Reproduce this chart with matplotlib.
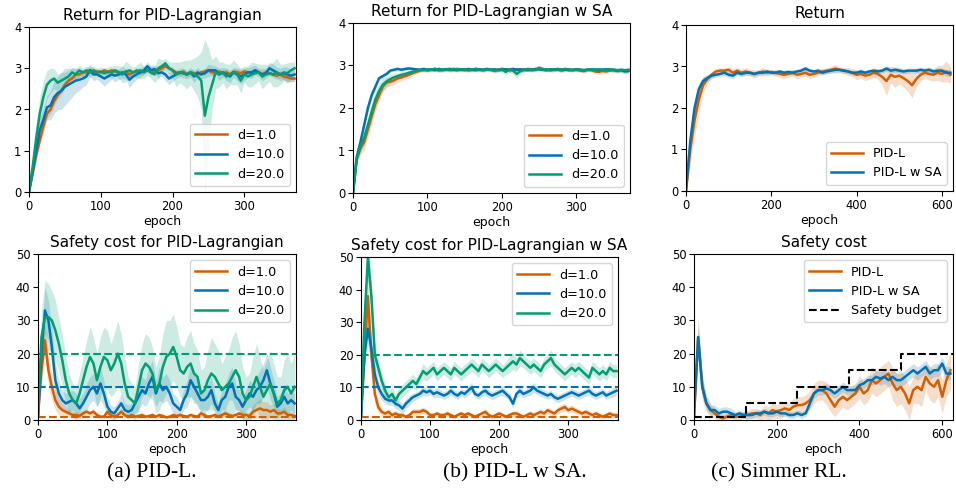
import numpy as np
import matplotlib
matplotlib.use("Agg")
import matplotlib.pyplot as plt

# %% Data
epochs_ab = np.arange(0, 375, 5)    # PID-L / PID-L w SA runs, logged every 5 epochs
epochs_c = np.arange(0, 630, 10)    # Simmer RL run, logged every 10 epochs

# (a) PID-L  -- return
ret_a_d1 = [0.00, 0.45, 0.90, 1.25, 1.60, 1.90, 2.00, 2.20, 2.35, 2.45, 2.60, 2.70, 2.75, 2.85, 2.85,
            2.90, 2.90, 2.95, 2.90, 2.92, 2.90, 2.95, 2.90, 2.95, 2.92, 2.90, 2.88, 2.92, 2.85, 2.90,
            2.95, 2.90, 2.92, 2.95, 2.90, 2.92, 2.95, 3.00, 3.05, 3.00, 2.95, 2.90, 2.88, 2.92, 2.85,
            2.90, 2.88, 2.85, 2.90, 2.92, 2.95, 2.90, 2.90, 2.92, 2.88, 2.90, 2.85, 2.92, 2.90, 2.88,
            2.92, 2.90, 2.88, 2.95, 2.90, 2.85, 2.90, 2.88, 2.85, 2.82, 2.85, 2.80, 2.78, 2.75, 2.75]
ret_a_d1_sd = [0.00, 0.10, 0.15, 0.15, 0.15, 0.12, 0.12, 0.10, 0.10, 0.10, 0.08, 0.08, 0.08, 0.08, 0.07,
               0.07, 0.06, 0.08, 0.06, 0.07, 0.06, 0.08, 0.07, 0.06, 0.07, 0.08, 0.06, 0.07, 0.08, 0.06,
               0.07, 0.06, 0.08, 0.06, 0.07, 0.06, 0.08, 0.07, 0.06, 0.07, 0.08, 0.06, 0.07, 0.08, 0.06,
               0.07, 0.06, 0.08, 0.06, 0.07, 0.06, 0.08, 0.07, 0.06, 0.07, 0.08, 0.06, 0.07, 0.08, 0.06,
               0.07, 0.06, 0.08, 0.06, 0.07, 0.08, 0.08, 0.07, 0.08, 0.09, 0.08, 0.08, 0.09, 0.08, 0.08]
ret_a_d10 = [0.00, 0.50, 1.00, 1.50, 1.75, 2.05, 2.10, 2.30, 2.40, 2.45, 2.55, 2.60, 2.65, 2.70, 2.72,
             2.75, 2.80, 2.95, 2.85, 2.85, 2.80, 2.75, 2.80, 2.85, 2.82, 2.85, 2.90, 2.85, 2.72, 2.80,
             2.85, 2.90, 2.95, 3.05, 2.95, 2.98, 2.88, 2.90, 2.85, 2.75, 2.80, 2.85, 2.90, 2.88, 2.85,
             2.90, 2.80, 2.90, 2.85, 2.88, 2.95, 2.95, 2.95, 2.85, 2.90, 2.85, 2.80, 2.90, 2.85, 2.80,
             2.85, 2.90, 2.90, 2.95, 2.90, 2.85, 2.88, 3.00, 2.95, 2.90, 2.85, 2.88, 2.85, 2.82, 2.85]
ret_a_d10_sd = [0.00, 0.15, 0.25, 0.30, 0.30, 0.30, 0.35, 0.40, 0.40, 0.45, 0.45, 0.40, 0.35, 0.30, 0.25,
                0.20, 0.20, 0.15, 0.15, 0.12, 0.15, 0.18, 0.15, 0.12, 0.15, 0.12, 0.15, 0.12, 0.18, 0.15,
                0.12, 0.12, 0.10, 0.10, 0.12, 0.10, 0.12, 0.10, 0.15, 0.15, 0.12, 0.10, 0.10, 0.12, 0.10,
                0.12, 0.15, 0.12, 0.10, 0.12, 0.15, 0.12, 0.10, 0.15, 0.12, 0.15, 0.15, 0.12, 0.15, 0.18,
                0.15, 0.12, 0.15, 0.12, 0.10, 0.15, 0.12, 0.15, 0.15, 0.12, 0.15, 0.15, 0.18, 0.15, 0.15]
ret_a_d20 = [0.00, 0.60, 1.30, 1.90, 2.30, 2.60, 2.70, 2.75, 2.65, 2.70, 2.75, 2.80, 2.90, 2.85, 2.95,
             2.90, 2.95, 2.90, 2.95, 2.90, 2.92, 2.88, 2.92, 2.90, 2.95, 2.90, 2.85, 2.92, 2.95, 2.90,
             2.92, 2.95, 2.90, 2.95, 2.90, 2.85, 3.00, 3.05, 3.12, 3.00, 2.95, 2.85, 2.90, 2.88, 2.85,
             2.90, 2.85, 2.80, 2.70, 1.85, 2.30, 2.60, 2.90, 2.85, 2.90, 2.80, 2.85, 2.90, 2.85, 2.70,
             2.85, 2.80, 2.85, 2.88, 2.90, 2.80, 2.85, 2.88, 2.85, 2.90, 2.85, 2.90, 2.88, 2.95, 3.00]
ret_a_d20_sd = [0.00, 0.25, 0.35, 0.40, 0.40, 0.35, 0.30, 0.25, 0.20, 0.20, 0.15, 0.15, 0.12, 0.15, 0.12,
                0.12, 0.10, 0.12, 0.10, 0.10, 0.12, 0.10, 0.12, 0.15, 0.12, 0.15, 0.20, 0.25, 0.15, 0.12,
                0.15, 0.20, 0.15, 0.12, 0.15, 0.20, 0.25, 0.15, 0.12, 0.15, 0.20, 0.30, 0.25, 0.30, 0.35,
                0.30, 0.40, 0.50, 0.70, 1.85, 1.20, 0.60, 0.40, 0.30, 0.25, 0.30, 0.25, 0.30, 0.25, 0.30,
                0.20, 0.25, 0.30, 0.25, 0.20, 0.30, 0.25, 0.20, 0.30, 0.35, 0.25, 0.20, 0.25, 0.20, 0.15]

# (a) PID-L  -- safety cost
cost_a_d1 = [1.0, 15.0, 24.0, 15.0, 10.0, 6.0, 4.0, 3.0, 2.5, 2.0, 1.5, 1.5, 1.2, 2.0, 2.5,
             2.0, 2.5, 1.5, 1.0, 1.0, 2.5, 1.5, 1.0, 1.5, 2.5, 1.5, 1.0, 1.5, 1.0, 1.2,
             1.5, 1.0, 1.2, 1.5, 1.0, 1.5, 1.2, 0.8, 1.0, 1.5, 1.2, 1.5, 1.2, 1.0, 1.5,
             1.2, 1.0, 2.0, 1.5, 1.0, 1.2, 1.5, 1.0, 1.5, 2.0, 1.5, 1.2, 1.5, 2.0, 1.5,
             1.5, 1.2, 2.5, 3.0, 3.5, 3.0, 3.0, 2.5, 3.0, 2.0, 2.0, 2.5, 1.5, 1.5, 1.2]
cost_a_d1_sd = [0.0, 4.0, 5.0, 5.0, 4.0, 3.0, 2.5, 2.0, 1.5, 1.2, 1.0, 1.0, 0.8, 1.0, 1.0,
                0.8, 1.0, 0.8, 0.6, 0.6, 1.0, 0.8, 0.6, 0.8, 1.0, 0.8, 0.6, 0.8, 0.6, 0.6,
                0.8, 0.6, 0.6, 0.8, 0.6, 0.8, 0.6, 0.5, 0.6, 0.8, 0.6, 0.8, 0.6, 0.6, 0.8,
                0.6, 0.6, 1.0, 0.8, 0.6, 0.6, 0.8, 0.6, 0.8, 1.0, 0.8, 0.6, 0.8, 1.2, 1.0,
                1.0, 1.0, 2.0, 2.5, 3.0, 2.5, 2.5, 2.0, 2.0, 1.5, 1.2, 1.5, 1.0, 1.0, 0.8]
cost_a_d10 = [1.0, 20.0, 33.0, 30.0, 22.0, 12.0, 8.0, 6.0, 5.0, 5.5, 6.0, 5.0, 3.5, 5.0, 7.0,
              9.0, 10.0, 8.0, 11.0, 8.0, 4.0, 2.5, 2.0, 3.5, 5.0, 3.0, 2.5, 3.0, 5.0, 7.0,
              9.0, 8.0, 11.0, 13.0, 8.0, 11.0, 9.0, 10.0, 8.0, 5.0, 4.0, 3.0, 6.0, 8.0, 12.0,
              10.0, 8.0, 6.0, 6.0, 7.0, 9.0, 5.0, 3.0, 6.0, 7.0, 10.0, 11.0, 7.0, 6.0, 4.0,
              6.0, 8.0, 7.0, 9.0, 10.0, 12.0, 15.0, 11.0, 8.0, 4.0, 5.0, 7.0, 5.0, 6.0, 5.0]
cost_a_d10_sd = [0, 5, 7, 6, 6, 5, 4, 3, 3, 3, 3, 3, 3, 3, 4,
                 4, 4, 4, 5, 4, 3, 2, 2, 2, 3, 2, 2, 2, 3, 4,
                 4, 4, 5, 5, 4, 5, 4, 4, 4, 3, 3, 2, 3, 4, 5,
                 4, 4, 3, 3, 4, 4, 3, 2, 3, 4, 4, 5, 4, 3, 3,
                 3, 4, 4, 4, 5, 5, 5, 5, 4, 3, 3, 4, 3, 3, 3]
cost_a_d20 = [1.0, 25.0, 31.0, 31.0, 30.0, 27.0, 23.0, 18.0, 12.0, 8.0, 6.0, 5.0, 8.0, 12.0, 16.0,
              19.0, 17.0, 12.0, 16.0, 19.0, 18.0, 15.0, 17.0, 20.0, 17.0, 11.0, 7.0, 6.0, 5.0, 10.0,
              15.0, 17.0, 16.0, 14.0, 9.0, 11.0, 16.0, 19.0, 20.0, 22.0, 19.0, 15.0, 14.0, 16.0, 17.0,
              14.0, 13.0, 8.0, 9.0, 12.0, 14.0, 13.0, 11.0, 9.0, 10.0, 11.0, 13.0, 15.0, 13.0, 8.0,
              6.0, 7.0, 10.0, 13.0, 10.0, 7.0, 9.0, 11.0, 8.0, 5.0, 6.0, 9.0, 10.0, 8.0, 10.0]
cost_a_d20_sd = [0, 8, 11, 10, 9, 9, 8, 8, 7, 6, 5, 5, 6, 7, 8,
                 9, 8, 8, 9, 9, 9, 8, 9, 10, 9, 8, 6, 5, 5, 7,
                 8, 9, 9, 8, 7, 8, 10, 11, 10, 10, 9, 8, 8, 9, 10,
                 9, 8, 7, 7, 9, 11, 10, 10, 8, 9, 10, 12, 12, 10, 8,
                 7, 7, 9, 10, 9, 8, 9, 10, 9, 8, 7, 9, 10, 9, 10]

# (b) PID-L w SA  -- return
ret_b_d1 = [0.00, 0.80, 1.05, 1.20, 1.50, 1.80, 2.10, 2.30, 2.50, 2.60, 2.62, 2.65, 2.70, 2.72, 2.75,
            2.78, 2.82, 2.85, 2.88, 2.90, 2.88, 2.90, 2.92, 2.88, 2.90, 2.91, 2.89, 2.90, 2.92, 2.90,
            2.91, 2.88, 2.90, 2.92, 2.90, 2.89, 2.91, 2.90, 2.88, 2.90, 2.92, 2.90, 2.89, 2.90, 2.91,
            2.88, 2.90, 2.92, 2.91, 2.90, 2.95, 2.92, 2.90, 2.89, 2.91, 2.90, 2.88, 2.90, 2.91, 2.89,
            2.90, 2.88, 2.87, 2.90, 2.89, 2.86, 2.85, 2.87, 2.86, 2.88, 2.90, 2.87, 2.89, 2.88, 2.88]
ret_b_d1_sd = [0.00, 0.10, 0.15, 0.20, 0.20, 0.20, 0.18, 0.15, 0.12, 0.12, 0.10, 0.10, 0.10, 0.08, 0.08,
               0.07, 0.06, 0.05, 0.05, 0.04, 0.05, 0.04, 0.05, 0.04, 0.05, 0.04, 0.05, 0.04, 0.05, 0.04,
               0.05, 0.04, 0.05, 0.04, 0.05, 0.04, 0.05, 0.04, 0.05, 0.04, 0.05, 0.04, 0.05, 0.04, 0.05,
               0.04, 0.05, 0.04, 0.05, 0.04, 0.05, 0.04, 0.05, 0.04, 0.05, 0.04, 0.05, 0.04, 0.05, 0.04,
               0.05, 0.04, 0.05, 0.04, 0.05, 0.05, 0.06, 0.05, 0.05, 0.04, 0.05, 0.05, 0.04, 0.05, 0.05]
ret_b_d10 = [0.00, 0.85, 1.20, 1.60, 2.00, 2.30, 2.50, 2.70, 2.75, 2.80, 2.88, 2.90, 2.92, 2.90, 2.92,
             2.93, 2.92, 2.91, 2.90, 2.92, 2.90, 2.91, 2.89, 2.92, 2.90, 2.91, 2.92, 2.90, 2.89, 2.91,
             2.90, 2.92, 2.90, 2.89, 2.91, 2.90, 2.92, 2.90, 2.91, 2.89, 2.90, 2.91, 2.90, 2.92, 2.90,
             2.91, 2.90, 2.89, 2.90, 2.92, 2.91, 2.90, 2.89, 2.91, 2.90, 2.92, 2.90, 2.91, 2.89, 2.90,
             2.91, 2.90, 2.89, 2.90, 2.91, 2.90, 2.89, 2.90, 2.91, 2.90, 2.89, 2.88, 2.89, 2.86, 2.87]
ret_b_d10_sd = [0.00, 0.08, 0.10, 0.10, 0.10, 0.10, 0.08, 0.06, 0.05, 0.05, 0.04, 0.04, 0.04, 0.04, 0.04,
                0.04, 0.04, 0.04, 0.04, 0.04, 0.04, 0.04, 0.04, 0.04, 0.04, 0.04, 0.04, 0.04, 0.04, 0.04,
                0.04, 0.04, 0.04, 0.04, 0.04, 0.04, 0.04, 0.04, 0.04, 0.04, 0.04, 0.04, 0.04, 0.04, 0.04,
                0.04, 0.04, 0.04, 0.04, 0.04, 0.04, 0.04, 0.04, 0.04, 0.04, 0.04, 0.04, 0.04, 0.04, 0.04,
                0.04, 0.04, 0.04, 0.04, 0.04, 0.04, 0.04, 0.04, 0.04, 0.04, 0.05, 0.05, 0.05, 0.06, 0.05]
ret_b_d20 = [0.00, 0.80, 1.10, 1.30, 1.60, 1.90, 2.20, 2.40, 2.55, 2.62, 2.68, 2.72, 2.75, 2.78, 2.80,
             2.83, 2.85, 2.88, 2.90, 2.89, 2.91, 2.90, 2.92, 2.90, 2.89, 2.91, 2.90, 2.92, 2.90, 2.91,
             2.89, 2.91, 2.90, 2.92, 2.90, 2.89, 2.91, 2.90, 2.88, 2.90, 2.91, 2.85, 2.90, 2.88, 2.80,
             2.87, 2.90, 2.91, 2.89, 2.90, 2.92, 2.90, 2.91, 2.89, 2.90, 2.91, 2.90, 2.92, 2.90, 2.89,
             2.91, 2.90, 2.89, 2.90, 2.91, 2.90, 2.91, 2.90, 2.89, 2.91, 2.90, 2.89, 2.90, 2.89, 2.90]
ret_b_d20_sd = [0.00, 0.10, 0.15, 0.18, 0.20, 0.20, 0.20, 0.18, 0.15, 0.12, 0.10, 0.10, 0.08, 0.08, 0.06,
                0.05, 0.05, 0.05, 0.04, 0.05, 0.04, 0.05, 0.04, 0.05, 0.04, 0.05, 0.04, 0.05, 0.04, 0.05,
                0.04, 0.05, 0.04, 0.05, 0.04, 0.05, 0.04, 0.05, 0.06, 0.05, 0.06, 0.08, 0.06, 0.08, 0.10,
                0.06, 0.05, 0.04, 0.05, 0.04, 0.05, 0.04, 0.05, 0.04, 0.05, 0.04, 0.05, 0.04, 0.05, 0.04,
                0.05, 0.04, 0.05, 0.04, 0.05, 0.04, 0.05, 0.04, 0.05, 0.04, 0.05, 0.04, 0.05, 0.04, 0.05]

# (b) PID-L w SA  -- safety cost
cost_b_d1 = [1.0, 20.0, 38.0, 20.0, 8.0, 4.0, 2.5, 2.0, 2.5, 1.5, 2.0, 1.5, 1.5, 1.0, 1.5,
             2.5, 2.5, 2.5, 3.0, 2.5, 1.5, 1.5, 2.0, 1.5, 1.5, 2.0, 1.5, 1.0, 1.5, 2.0,
             1.5, 2.0, 1.5, 1.0, 1.5, 2.0, 2.5, 1.5, 1.0, 1.5, 2.0, 1.5, 1.0, 1.5, 2.0,
             2.0, 1.5, 1.0, 1.5, 2.0, 1.5, 2.0, 2.5, 2.0, 3.0, 2.5, 2.0, 3.0, 3.5, 4.0,
             3.0, 3.5, 3.0, 2.5, 2.0, 2.5, 2.0, 1.5, 2.0, 1.5, 1.0, 1.5, 2.0, 1.5, 1.5]
cost_b_d1_sd = [0.0, 5.0, 8.0, 5.0, 3.0, 2.0, 1.0, 1.0, 1.0, 0.8, 0.8, 0.8, 0.8, 0.6, 0.8,
                1.0, 1.0, 1.0, 1.0, 1.0, 0.8, 0.8, 0.8, 0.8, 0.8, 0.8, 0.8, 0.6, 0.8, 0.8,
                0.8, 0.8, 0.8, 0.6, 0.8, 0.8, 1.0, 0.8, 0.6, 0.8, 0.8, 0.8, 0.6, 0.8, 0.8,
                0.8, 0.8, 0.6, 0.8, 0.8, 0.8, 0.8, 1.0, 0.8, 1.0, 1.0, 0.8, 1.0, 1.2, 1.2,
                1.0, 1.2, 1.0, 1.0, 0.8, 1.0, 0.8, 0.8, 0.8, 0.8, 0.6, 0.8, 0.8, 0.8, 0.8]
cost_b_d10 = [1.0, 20.0, 28.0, 22.0, 14.0, 10.0, 8.0, 6.5, 6.0, 6.0, 5.0, 4.5, 3.5, 5.0, 6.0,
              7.0, 7.5, 8.0, 9.0, 8.5, 9.0, 8.0, 8.5, 8.0, 7.5, 8.0, 9.0, 8.0, 7.5, 8.5,
              8.0, 9.0, 10.0, 8.0, 7.5, 8.5, 9.0, 8.0, 7.5, 8.0, 8.5, 9.0, 8.0, 7.0, 5.0,
              8.0, 9.0, 8.0, 8.5, 9.0, 10.0, 9.0, 8.5, 8.0, 7.5, 8.0, 7.0, 6.5, 7.0, 7.5,
              8.0, 8.5, 8.0, 7.5, 8.0, 8.5, 9.0, 8.0, 7.5, 8.0, 8.5, 7.5, 8.0, 8.5, 9.0]
cost_b_d10_sd = [0.0, 4.0, 5.0, 4.0, 3.0, 2.0, 2.0, 1.5, 1.5, 1.5, 1.5, 1.5, 1.5, 1.5, 1.5,
                 1.2, 1.2, 1.2, 1.5, 1.2, 1.2, 1.2, 1.5, 1.2, 1.2, 1.2, 1.5, 1.2, 1.2, 1.2,
                 1.2, 1.5, 1.5, 1.2, 1.2, 1.2, 1.5, 1.2, 1.2, 1.2, 1.2, 1.5, 1.2, 1.2, 1.5,
                 1.2, 1.5, 1.2, 1.2, 1.5, 1.5, 1.2, 1.2, 1.2, 1.2, 1.2, 1.2, 1.2, 1.2, 1.2,
                 1.2, 1.2, 1.2, 1.2, 1.2, 1.2, 1.5, 1.2, 1.2, 1.2, 1.2, 1.2, 1.2, 1.5, 1.5]
cost_b_d20 = [1.0, 30.0, 50.0, 38.0, 20.0, 16.0, 12.0, 9.0, 7.0, 8.0, 6.0, 8.0, 9.0, 10.0, 11.0,
              12.0, 11.0, 13.0, 15.0, 14.0, 15.0, 16.0, 14.0, 15.0, 16.0, 15.0, 14.0, 16.0, 15.0, 14.0,
              15.0, 16.0, 17.0, 16.0, 15.0, 17.0, 16.0, 15.0, 16.0, 17.0, 16.0, 15.0, 16.0, 17.0, 18.0,
              17.0, 19.0, 18.0, 17.0, 16.0, 17.0, 16.0, 15.0, 17.0, 18.0, 19.0, 17.0, 16.0, 15.0, 14.0,
              15.0, 16.0, 15.0, 16.0, 15.0, 14.0, 13.0, 16.0, 15.0, 14.0, 15.0, 14.0, 16.0, 15.0, 15.0]
cost_b_d20_sd = [0.0, 5.0, 6.0, 5.0, 4.0, 3.0, 2.5, 2.0, 2.0, 2.0, 2.0, 2.0, 2.0, 2.0, 2.0,
                 2.0, 2.0, 2.0, 2.5, 2.0, 2.0, 2.0, 2.0, 2.0, 2.0, 2.0, 2.0, 2.0, 2.0, 2.0,
                 2.0, 2.0, 2.0, 2.0, 2.0, 2.0, 2.0, 2.0, 2.0, 2.0, 2.0, 2.0, 2.0, 2.5, 2.5,
                 2.0, 2.5, 2.0, 2.0, 2.0, 2.0, 2.0, 2.0, 2.0, 2.0, 2.5, 2.0, 2.0, 2.0, 2.0,
                 2.0, 2.0, 2.0, 2.0, 2.0, 2.0, 2.0, 2.0, 2.0, 2.0, 2.0, 2.0, 2.0, 2.0, 2.0]

# (c) Simmer RL  -- return
ret_c_pid = [0.00, 1.00, 1.70, 2.20, 2.55, 2.70, 2.80, 2.88, 2.90, 2.90, 2.92, 2.85, 2.90, 2.85, 2.88,
             2.85, 2.82, 2.85, 2.88, 2.85, 2.87, 2.85, 2.82, 2.80, 2.82, 2.85, 2.80, 2.82, 2.85, 2.80,
             2.82, 2.85, 2.88, 2.90, 2.92, 2.95, 2.92, 2.90, 2.88, 2.85, 2.80, 2.82, 2.78, 2.80, 2.85,
             2.82, 2.75, 2.65, 2.80, 2.75, 2.78, 2.72, 2.65, 2.55, 2.70, 2.80, 2.85, 2.82, 2.80, 2.85,
             2.82, 2.88, 2.80]
ret_c_pid_sd = [0.00, 0.35, 0.40, 0.30, 0.20, 0.10, 0.08, 0.08, 0.07, 0.07, 0.08, 0.10, 0.08, 0.08, 0.10,
                0.08, 0.10, 0.08, 0.10, 0.08, 0.07, 0.08, 0.08, 0.10, 0.08, 0.08, 0.10, 0.08, 0.08, 0.10,
                0.08, 0.07, 0.08, 0.07, 0.08, 0.10, 0.08, 0.08, 0.10, 0.10, 0.12, 0.10, 0.12, 0.10, 0.12,
                0.12, 0.20, 0.35, 0.20, 0.25, 0.20, 0.22, 0.25, 0.30, 0.20, 0.15, 0.12, 0.15, 0.15, 0.18,
                0.20, 0.25, 0.20]
ret_c_sa = [0.00, 1.20, 2.00, 2.45, 2.65, 2.72, 2.78, 2.80, 2.82, 2.85, 2.80, 2.78, 2.85, 2.82, 2.85,
            2.85, 2.82, 2.85, 2.85, 2.88, 2.85, 2.85, 2.88, 2.85, 2.87, 2.85, 2.88, 2.90, 2.95, 2.90,
            2.88, 2.90, 2.85, 2.88, 2.90, 2.92, 2.92, 2.90, 2.88, 2.85, 2.85, 2.88, 2.85, 2.88, 2.90,
            2.88, 2.90, 2.95, 2.90, 2.92, 2.90, 2.88, 2.90, 2.90, 2.90, 2.92, 2.90, 2.92, 2.88, 2.90,
            2.90, 2.85, 2.85]
ret_c_sa_sd = [0.00, 0.20, 0.20, 0.15, 0.10, 0.08, 0.07, 0.06, 0.06, 0.06, 0.07, 0.08, 0.06, 0.06, 0.06,
               0.06, 0.06, 0.06, 0.05, 0.06, 0.05, 0.06, 0.05, 0.06, 0.05, 0.06, 0.05, 0.06, 0.06, 0.06,
               0.05, 0.06, 0.05, 0.06, 0.05, 0.06, 0.05, 0.06, 0.05, 0.06, 0.06, 0.06, 0.06, 0.06, 0.06,
               0.06, 0.06, 0.07, 0.06, 0.06, 0.06, 0.06, 0.06, 0.06, 0.06, 0.07, 0.06, 0.07, 0.06, 0.07,
               0.07, 0.08, 0.08]

# (c) Simmer RL  -- safety cost
cost_c_pid = [1.0, 25.0, 10.0, 5.0, 3.0, 2.0, 1.0, 0.5, 1.0, 1.5, 1.0, 1.0, 1.5, 1.5, 2.0,
              2.0, 1.5, 2.5, 2.0, 3.0, 2.5, 3.0, 3.5, 3.0, 4.0, 4.5, 4.5, 5.0, 6.0, 8.0,
              9.0, 9.0, 8.0, 6.0, 4.0, 6.0, 7.0, 6.0, 7.0, 8.0, 10.0, 8.0, 9.0, 12.0, 11.0,
              12.0, 13.0, 14.0, 11.0, 9.0, 10.0, 8.0, 5.0, 9.0, 10.0, 9.0, 13.0, 11.0, 10.0, 12.0,
              7.0, 12.0, 15.0]
cost_c_pid_sd = [0.0, 6.0, 4.0, 2.5, 2.0, 1.5, 1.0, 1.0, 1.0, 1.0, 1.0, 1.0, 1.0, 1.5, 1.5,
                 1.5, 1.5, 2.0, 2.0, 2.5, 2.0, 2.5, 2.0, 2.0, 2.5, 2.5, 2.5, 2.5, 3.0, 3.0,
                 3.0, 3.0, 3.5, 3.5, 3.0, 3.5, 3.0, 3.0, 3.0, 3.0, 3.5, 3.5, 3.5, 4.0, 4.0,
                 4.0, 4.0, 4.0, 5.0, 5.0, 5.0, 5.0, 5.0, 4.0, 5.0, 5.0, 4.0, 5.0, 5.0, 5.0,
                 5.0, 5.0, 6.0]
cost_c_sa = [1.0, 25.0, 10.0, 5.0, 3.0, 3.0, 2.0, 2.5, 2.5, 2.0, 1.5, 2.0, 1.5, 1.5, 1.5,
             2.0, 2.0, 2.5, 2.0, 2.0, 2.5, 2.0, 2.0, 1.5, 1.5, 2.0, 1.5, 2.0, 5.0, 8.0,
             9.0, 9.0, 9.5, 9.0, 8.0, 9.0, 10.0, 9.0, 9.0, 9.0, 10.5, 11.0, 12.0, 12.0, 13.0,
             12.5, 13.0, 12.0, 13.0, 12.0, 12.0, 13.0, 14.0, 15.0, 14.0, 15.0, 16.0, 14.0, 15.0, 15.0,
             17.0, 14.0, 14.0]
cost_c_sa_sd = [0.0, 4.0, 3.0, 2.0, 1.5, 1.5, 1.5, 1.5, 1.5, 1.5, 1.0, 1.0, 1.0, 1.0, 1.0,
                1.0, 1.0, 1.0, 1.0, 1.0, 1.0, 1.0, 1.0, 1.0, 1.0, 1.0, 1.0, 1.0, 1.5, 1.5,
                1.5, 1.5, 1.5, 1.5, 1.5, 1.5, 1.5, 1.5, 1.5, 1.5, 1.5, 1.5, 1.5, 1.5, 2.0,
                2.0, 2.0, 2.0, 2.0, 2.0, 2.0, 2.0, 2.0, 2.0, 2.0, 2.0, 2.0, 2.0, 2.0, 2.0,
                2.0, 2.0, 2.0]

budget_epochs = [0, 125, 250, 375, 500, 625]
budget_levels = [1, 5, 10, 15, 20, 20]
thresholds = [1.0, 10.0, 20.0]

d_labels = ["d=1.0", "d=10.0", "d=20.0"]
c_labels = ["PID-L", "PID-L w SA"]
captions = ["(a) PID-L.", "(b) PID-L w SA.", "(c) Simmer RL."]

# %% Style
ORANGE, BLUE, GREEN = "#D55E00", "#0173B2", "#029E73"
COLS = [ORANGE, BLUE, GREEN]
TICK_FS, TITLE_FS, LEG_FS, LAB_FS = 8.3, 11, 9.2, 9

W, H = 956, 498
fig = plt.figure(figsize=(W / 100, H / 100), dpi=100)


def add_ax(x0, y0, x1, y1):
    # pixel box (top-left origin) -> figure fraction
    return fig.add_axes([x0 / W, 1 - y1 / H, (x1 - x0) / W, (y1 - y0) / H])


def band(ax, x, m, sd, col, label):
    m = np.asarray(m, float)
    sd = np.asarray(sd, float)
    ax.fill_between(x, m - sd, m + sd, color=col, alpha=0.2, lw=0)
    ax.plot(x, m, color=col, lw=1.8, label=label)


def finish(ax, title, xmax, xticks, ymax, yticks, legend_loc):
    ax.set_xlim(0, xmax)
    ax.set_ylim(0, ymax)
    ax.set_xticks(xticks)
    ax.set_yticks(yticks)
    ax.set_title(title, fontsize=TITLE_FS, pad=5)
    ax.set_xlabel("epoch", fontsize=LAB_FS, labelpad=2)
    ax.tick_params(labelsize=TICK_FS, length=3.5, pad=2)
    ax.legend(loc=legend_loc, fontsize=LEG_FS, handlelength=2.5)


ret_ab = [
    ([ret_a_d1, ret_a_d10, ret_a_d20], [ret_a_d1_sd, ret_a_d10_sd, ret_a_d20_sd]),
    ([ret_b_d1, ret_b_d10, ret_b_d20], [ret_b_d1_sd, ret_b_d10_sd, ret_b_d20_sd]),
]
cost_ab = [
    ([cost_a_d1, cost_a_d10, cost_a_d20], [cost_a_d1_sd, cost_a_d10_sd, cost_a_d20_sd]),
    ([cost_b_d1, cost_b_d10, cost_b_d20], [cost_b_d1_sd, cost_b_d10_sd, cost_b_d20_sd]),
]
top_boxes = [(29, 27, 296, 192), (353, 23, 630, 193)]
bot_boxes = [(38, 254, 296, 420), (361, 257, 618, 420)]
top_titles = ["Return for PID-Lagrangian", "Return for PID-Lagrangian w SA"]
bot_titles = ["Safety cost for PID-Lagrangian", "Safety cost for PID-Lagrangian w SA"]
ab_xticks = [0, 100, 200, 300]
c_xticks = [0, 200, 400, 600]

for k in range(2):
    ax = add_ax(*top_boxes[k])
    means, sds = ret_ab[k]
    for m, sd, col, lab in zip(means, sds, COLS, d_labels):
        band(ax, epochs_ab, m, sd, col, lab)
    finish(ax, top_titles[k], 372, ab_xticks, 4, [0, 1, 2, 3, 4], "lower right")

    ax = add_ax(*bot_boxes[k])
    means, sds = cost_ab[k]
    for m, sd, col, lab, thr in zip(means, sds, COLS, d_labels, thresholds):
        band(ax, epochs_ab, m, sd, col, lab)
        ax.axhline(thr, color=col, ls="--", lw=1.5)
    finish(ax, bot_titles[k], 372, ab_xticks, 50, [0, 10, 20, 30, 40, 50], "upper right")

# Simmer RL column
ax = add_ax(686, 25, 953, 191)
band(ax, epochs_c, ret_c_pid, ret_c_pid_sd, ORANGE, c_labels[0])
band(ax, epochs_c, ret_c_sa, ret_c_sa_sd, BLUE, c_labels[1])
finish(ax, "Return", 626, c_xticks, 4, [0, 1, 2, 3, 4], "lower right")

ax = add_ax(694, 254, 953, 420)
band(ax, epochs_c, cost_c_pid, cost_c_pid_sd, ORANGE, c_labels[0])
band(ax, epochs_c, cost_c_sa, cost_c_sa_sd, BLUE, c_labels[1])
ax.step(budget_epochs, budget_levels, where="post", color="black", ls="--",
        lw=1.5, label="Safety budget")
finish(ax, "Safety cost", 626, c_xticks, 50, [0, 10, 20, 30, 40, 50], "upper right")

# sub-captions
for xc, cap in zip([152, 515, 779], captions):
    fig.text(xc / W, 1 - 473 / H, cap, ha="center", va="center",
             fontsize=15.5, family="Liberation Serif")

fig.savefig("out.png", dpi=100)
